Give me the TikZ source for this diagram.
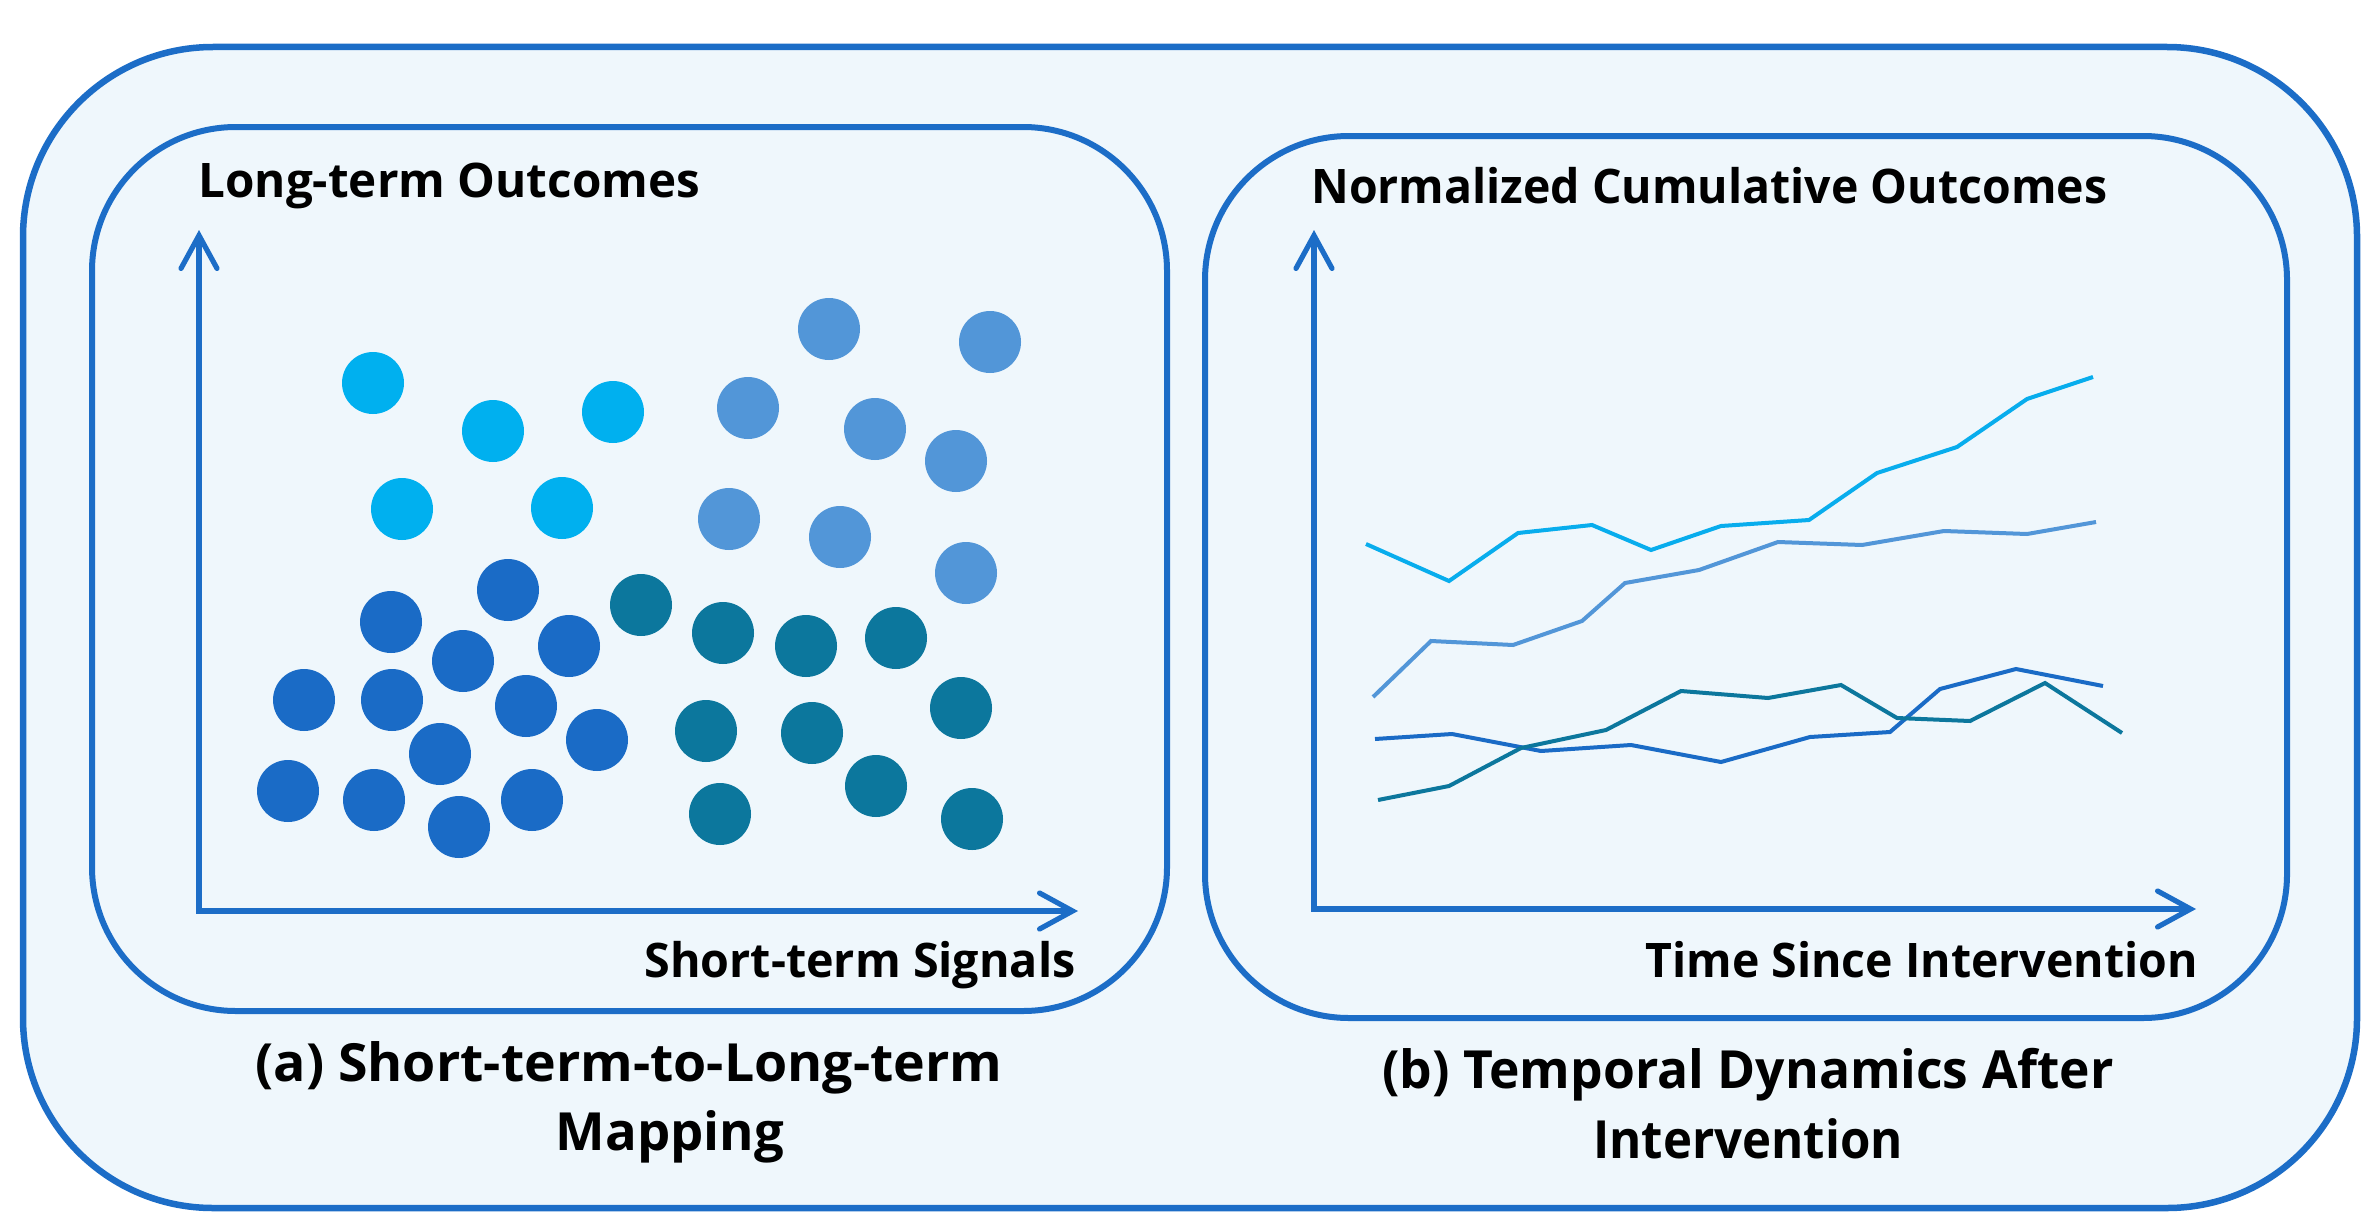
\documentclass[tikz,border=0pt]{standalone}
\usepackage{fontspec}
\setmainfont{Open Sans}
\usetikzlibrary{arrows.meta}
\definecolor{boxblue}{HTML}{1C6DC7}
\definecolor{boxfill}{HTML}{EFF7FC}
\definecolor{cyanA}{HTML}{00B0EF}
\definecolor{blueB}{HTML}{5296D8}
\definecolor{blueC}{HTML}{1A6BC6}
\definecolor{tealD}{HTML}{0C779D}
\begin{document}
\begin{tikzpicture}[x=0.5pt,y=-0.5pt,
  outerbox/.style={draw=boxblue, line width=3.25pt, fill=boxfill, rounded corners=95pt},
  panelbox/.style={draw=boxblue, line width=3pt, fill=boxfill, rounded corners=72pt},
  axes/.style={draw=boxblue, line width=2.6pt, line join=miter,
    {Straight Barb[length=16.5pt,width=18pt,line cap=round]}-{Straight Barb[length=16.5pt,width=18pt,line cap=round]}},
  axlab/.style={font=\fontsize{23.8pt}{28pt}\selectfont\bfseries, inner sep=0pt, text=black},
  caplab/.style={font=\fontsize{26.3pt}{32pt}\selectfont\bfseries, inner sep=0pt, text=black, anchor=base},
  dot/.style={circle, inner sep=0pt, minimum size=31pt, draw=none},
  dotA/.style={dot, fill=cyanA},
  dotB/.style={dot, fill=blueB},
  dotC/.style={dot, fill=blueC},
  dotD/.style={dot, fill=tealD},
  serie/.style={line width=2pt, line join=miter},
]
\useasboundingbox (0,0) rectangle (2380,1220);
% outer frame
\draw[outerbox] (23,47) rectangle (2357,1208);
% panels
\draw[panelbox] (92,127) rectangle (1167,1011);
\draw[panelbox] (1205,136) rectangle (2287,1018);

% ---------- panel (a) ----------
\coordinate (oA) at (199,911);
\coordinate (yA) at (199,230);
\coordinate (xA) at (1078,911);
\draw[axes] (yA) -- (oA) -- (xA);
\node[axlab, anchor=base west] (ylabA) at (198,197) {Long-term Outcomes};
\node[axlab, anchor=base east] (xlabA) at (1076,977) {\scalebox{0.98}[1]{Short-term Signals}};

\node[dotA] (a1) at (373,383) {};
\node[dotA] (a2) at (493,431) {};
\node[dotA] (a3) at (613,412) {};
\node[dotA] (a4) at (402,509) {};
\node[dotA] (a5) at (562,508) {};

\node[dotB] (b1) at (829,329) {};
\node[dotB] (b2) at (990,342) {};
\node[dotB] (b3) at (748,408) {};
\node[dotB] (b4) at (875,429) {};
\node[dotB] (b5) at (956,461) {};
\node[dotB] (b6) at (729,519) {};
\node[dotB] (b7) at (840,537) {};
\node[dotB] (b8) at (966,573) {};

\node[dotC] (c1) at (508,590) {};
\node[dotC] (c2) at (391,622) {};
\node[dotC] (c3) at (463,661) {};
\node[dotC] (c4) at (569,646) {};
\node[dotC] (c5) at (304,700) {};
\node[dotC] (c6) at (392,700) {};
\node[dotC] (c7) at (526,706) {};
\node[dotC] (c8) at (440,754) {};
\node[dotC] (c9) at (597,740) {};
\node[dotC] (c10) at (288,791) {};
\node[dotC] (c11) at (374,800) {};
\node[dotC] (c12) at (459,827) {};
\node[dotC] (c13) at (532,800) {};

\node[dotD] (d1) at (641,605) {};
\node[dotD] (d2) at (723,633) {};
\node[dotD] (d3) at (806,646) {};
\node[dotD] (d4) at (896,638) {};
\node[dotD] (d5) at (961,708) {};
\node[dotD] (d6) at (706,731) {};
\node[dotD] (d7) at (812,733) {};
\node[dotD] (d8) at (720,814) {};
\node[dotD] (d9) at (876,786) {};
\node[dotD] (d10) at (972,819) {};

\node[caplab] (capA1) at (629,1081) {\scalebox{1.02}[1]{(a) Short-term-to-Long-term}};
\node[caplab] (capA2) at (670,1150) {Mapping};

% ---------- panel (b) ----------
\coordinate (oB) at (1314,909);
\coordinate (yB) at (1314,230);
\coordinate (xB) at (2196,909);
\draw[axes] (yB) -- (oB) -- (xB);
\node[axlab, anchor=base west] (ylabB) at (1311,203) {\scalebox{0.975}[1]{Normalized Cumulative Outcomes}};
\node[axlab, anchor=base east] (xlabB) at (2198,977) {\scalebox{0.975}[1]{Time Since Intervention}};

\draw[serie, cyanA!90!blueB] plot coordinates {(1366,544) (1449,581) (1518,533) (1592,525) (1651,550) (1721,526) (1809,520) (1877,473) (1957,447) (2027,399) (2093,377)};
\draw[serie, blueB] plot coordinates {(1373,697) (1431,641) (1513,645) (1582,621) (1625,583) (1699,570) (1778,542) (1862,545) (1944,531) (2027,534) (2096,522)};
\draw[serie, blueC] plot coordinates {(1375,739) (1452,734) (1541,751) (1631,745) (1721,762) (1810,737) (1890,732) (1940,689) (2016,669) (2103,686)};
\draw[serie, tealD] plot coordinates {(1378,800) (1449,786) (1521,748) (1606,730) (1681,691) (1768,698) (1841,685) (1897,718) (1970,721) (2045,683) (2122,733)};

\node[caplab] (capB1) at (1748,1088) {\scalebox{0.98}[1]{(b) Temporal Dynamics After}};
\node[caplab] (capB2) at (1748,1158) {\scalebox{0.935}[1]{Intervention}};
\end{tikzpicture}
\end{document}
